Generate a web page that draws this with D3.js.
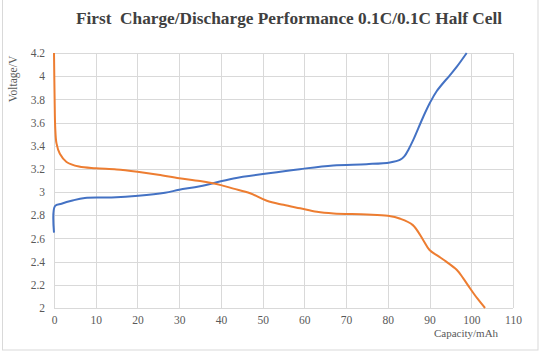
<!DOCTYPE html>
<html><head><meta charset="utf-8">
<script src="https://cdn.jsdelivr.net/npm/d3@7"></script>
<style>body{margin:0;background:#fff}svg{display:block}</style>
</head><body><svg id="c" width="542" height="354"></svg>
<script>
const title = "First  Charge/Discharge Performance 0.1C/0.1C Half Cell";
const xLabel = "Capacity/mAh";
const yLabel = "Voltage/V";
const xTicks = [0,10,20,30,40,50,60,70,80,90,100,110];
const yTicks = [2,2.2,2.4,2.6,2.8,3,3.2,3.4,3.6,3.8,4,4.2];
const chargeX = [0,0.25,1.8,4.2,7.4,13.8,20.2,26.6,30,35,43,51,58.9,66.9,74.9,80.5,83,84,85,86.1,88.5,90.1,91.7,94.9,96.5,98.9];
const chargeV = [2.65,2.88,2.9,2.925,2.95,2.954,2.968,2.994,3.02,3.05,3.118,3.16,3.198,3.23,3.241,3.256,3.28,3.31,3.37,3.45,3.65,3.77,3.87,4.01,4.08,4.2];
const dischargeX = [0,0.15,0.3,0.6,1.4,3,6,10,15,20,25,30,35,40,43,47,51,55,59,63,67,75,80,83,86,88.5,90,92,94,96.5,98,99.7,101.5,103.3];
const dischargeV = [4.2,3.8,3.55,3.42,3.33,3.26,3.22,3.205,3.195,3.175,3.15,3.12,3.095,3.06,3.03,2.99,2.925,2.89,2.86,2.83,2.816,2.807,2.795,2.77,2.715,2.585,2.5,2.45,2.4,2.33,2.26,2.17,2.08,2.0];

const svg = d3.select("#c");
const L=54,R=513,T=53,B=308;
const x = d3.scaleLinear().domain([0,110]).range([L,R]);
const y = d3.scaleLinear().domain([2,4.2]).range([B,T]);

svg.append("rect").attr("x",2.5).attr("y",-1).attr("width",535.5).attr("height",351)
  .attr("fill","none").attr("stroke","#d9d9d9");

svg.append("text").attr("x",289).attr("y",24).attr("text-anchor","middle").style("white-space","pre")
  .attr("font-family","Liberation Serif, Times New Roman, serif").attr("font-weight","bold")
  .attr("font-size",17.3).attr("fill","#404040").text(title);

const grid = svg.append("g").attr("stroke","#d9d9d9").attr("stroke-width",1);
yTicks.forEach(t=>grid.append("line").attr("x1",L).attr("x2",R).attr("y1",Math.round(y(t))+0.5).attr("y2",Math.round(y(t))+0.5));
xTicks.forEach(t=>grid.append("line").attr("y1",T).attr("y2",B).attr("x1",Math.round(x(t))+0.5).attr("x2",Math.round(x(t))+0.5));

const yAxis = svg.append("g").attr("transform",`translate(${L-9},0)`)
  .call(d3.axisLeft(y).tickValues(yTicks).tickSize(0).tickPadding(0).tickFormat(d=>d3.format("~g")(d)));
const xAxis = svg.append("g").attr("transform",`translate(0,${B+8})`)
  .call(d3.axisBottom(x).tickValues(xTicks).tickSize(0).tickPadding(0));
[yAxis,xAxis].forEach(a=>{a.select(".domain").remove();
  a.selectAll("text").attr("font-family","Liberation Serif, Times New Roman, serif").attr("font-size",11.5).attr("fill","#595959");});
yAxis.selectAll("text").attr("dy","0.32em");
xAxis.selectAll("text").attr("dy","0.71em");

svg.append("text").attr("transform","translate(17,79) rotate(-90)").attr("text-anchor","middle")
  .attr("font-family","Liberation Serif, Times New Roman, serif").attr("font-size",11.5).attr("fill","#595959").text(yLabel);
svg.append("text").attr("x",466).attr("y",337).attr("text-anchor","middle")
  .attr("font-family","Liberation Serif, Times New Roman, serif").attr("font-size",11).attr("fill","#595959").text(xLabel);

const line = d3.line().x(d=>x(d[0])).y(d=>y(d[1])).curve(d3.curveCatmullRom.alpha(0.5));
svg.append("path").datum(chargeX.map((v,i)=>[v,chargeV[i]])).attr("d",line)
  .attr("fill","none").attr("stroke","#4472C4").attr("stroke-width",2);
svg.append("path").datum(dischargeX.map((v,i)=>[v,dischargeV[i]])).attr("d",line)
  .attr("fill","none").attr("stroke","#ED7D31").attr("stroke-width",2);
</script></body></html>
